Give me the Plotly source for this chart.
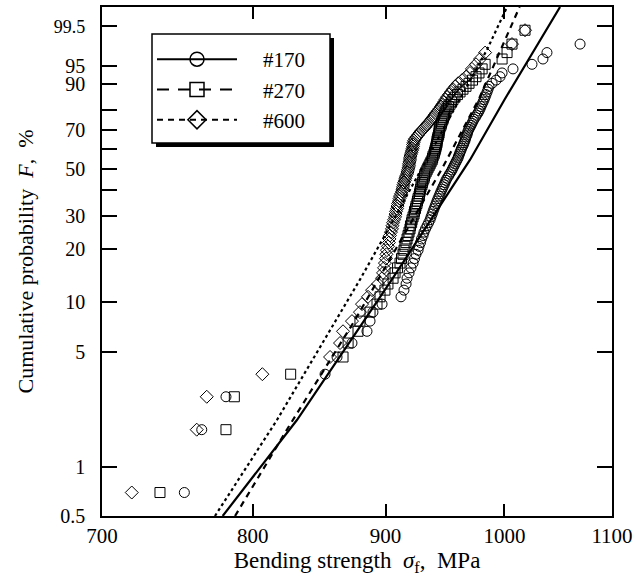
import numpy as np
import plotly.graph_objects as go

# ---------------- data ----------------
n_specimens = 100  # per grit; median-rank plotting positions (i-0.3)/(n+0.4)

# #170 : 99 specimens visible (the strongest one lies beyond the 1100 MPa frame)
s170 = [753.0, 764.7, 781.3, 853.0, 862.1, 873.6, 885.3, 887.7, 890.0, 897.2,
        912.4, 914.8, 916.5, 917.3, 918.9, 920.5, 922.2, 923.4, 924.6, 926.3,
        927.1, 928.3, 929.1, 930.4, 931.2, 932.4, 933.7, 935.0, 936.2, 937.0,
        937.9, 938.7, 939.5, 940.4, 941.2, 942.0, 942.8, 943.7, 944.5, 945.3,
        946.2, 947.0, 947.9, 948.7, 949.5, 950.4, 951.6, 952.5, 953.7, 954.6,
        955.4, 956.3, 957.1, 958.0, 958.8, 959.7, 960.1, 960.9, 961.4, 962.2,
        962.6, 963.5, 964.3, 964.8, 965.6, 966.0, 966.5, 967.3, 967.7, 968.2,
        969.0, 969.9, 970.8, 971.6, 972.5, 973.3, 974.6, 975.5, 976.8, 977.7,
        978.6, 979.4, 980.3, 981.2, 982.1, 983.0, 983.8, 984.7, 985.6, 986.4,
        989.1, 992.6, 996.1, 997.9, 1007.6, 1024.7, 1034.7, 1038.4, 1069.3]

s270 = [736.9, 781.3, 787.1, 827.4, 866.7, 870.6, 878.3, 879.8, 887.7, 893.2,
        895.6, 899.5, 901.9, 906.0, 907.6, 909.6, 911.6, 912.8, 914.0, 914.8,
        915.6, 916.5, 917.3, 918.1, 918.9, 919.7, 920.1, 921.0, 921.4, 922.2,
        923.0, 923.4, 924.2, 924.6, 925.4, 925.8, 926.3, 927.1, 927.5, 927.9,
        928.3, 928.7, 929.5, 929.9, 930.4, 931.2, 931.6, 932.0, 932.9, 933.7,
        934.5, 935.4, 936.2, 937.0, 937.9, 938.3, 938.7, 939.5, 939.9, 940.4,
        940.8, 941.2, 941.6, 942.0, 942.0, 942.4, 942.8, 943.3, 943.7, 943.7,
        944.1, 944.5, 945.3, 945.7, 946.2, 947.0, 947.4, 948.3, 948.7, 949.5,
        950.4, 951.6, 952.9, 954.2, 955.4, 957.1, 959.2, 961.4, 963.9, 966.5,
        969.1, 972.1, 975.1, 977.7, 980.4, 983.0, 997.9, 1002.3, 1006.7, 1018.4]

s600 = [718.7, 761.3, 768.1, 806.9, 856.8, 864.4, 866.7, 873.6, 879.8, 881.4,
        886.1, 889.3, 894.0, 897.2, 898.0, 898.8, 899.5, 900.3, 900.7, 901.1,
        901.9, 902.7, 903.1, 903.5, 904.3, 905.1, 905.5, 906.0, 906.8, 907.6,
        908.0, 908.4, 909.2, 909.6, 910.0, 910.8, 911.2, 911.6, 912.4, 913.2,
        913.6, 914.0, 914.4, 914.8, 915.6, 916.0, 916.5, 917.3, 917.7, 918.1,
        918.5, 918.9, 918.9, 919.3, 919.7, 919.7, 920.1, 920.5, 921.0, 921.4,
        921.8, 922.2, 922.2, 922.6, 923.0, 923.8, 925.0, 926.3, 927.5, 928.7,
        930.4, 932.0, 933.3, 934.5, 936.2, 937.4, 938.7, 939.9, 941.2, 942.8,
        944.1, 945.3, 946.6, 947.9, 949.1, 950.4, 952.1, 953.7, 955.4, 957.5,
        959.7, 963.1, 966.5, 969.9, 971.6, 975.1, 978.6, 983.0, 1006.7, 1018.4]

# fitted distribution lines (strength in MPa at cumulative probability in %)
fit170_F = [0.5, 1.94, 13.4, 30.0, 54.6, 84.3, 99.9]
fit170_s = [779.0, 832.0, 905.0, 939.0, 970.0, 1000.0, 1050.5]
fit270_F = [0.5, 1.74, 7.8, 51.0, 85.0, 99.9]
fit270_s = [787.6, 825.5, 876.0, 947.0, 978.0, 1013.5]
fit600_F = [0.5, 1.94, 13.4, 25.3, 97.7, 99.9]
fit600_s = [773.7, 817.4, 879.8, 901.9, 984.7, 1002.3]

labels = ["#170", "#270", "#600"]

tick_F = [0.5, 1, 5, 10, 20, 30, 40, 50, 60, 70, 80, 90, 95, 99.5]
tick_txt = ["0.5", "1", "5", "10", "20", "30", "", "50", "", "70", "", "90", "95",
            "<span style='font-size:18px'>99.5</span>"]
x_ticks = [700, 800, 900, 1000, 1100]
F_min, F_max = 0.5, 99.9
x_min, x_max = 700, 1100


# ---------------- helpers ----------------
def weib(Fpct):
    F = np.asarray(Fpct, dtype=float) / 100.0
    return np.log(-np.log(1.0 - F))


def ranks_F(count):
    i = np.arange(1, count + 1)
    return 100.0 * (i - 0.3) / (n_specimens + 0.4)


FONT = "Liberation Serif"
fig = go.Figure()

styles = [
    dict(sym="circle-open", dash="solid", data=s170, fF=fit170_F, fs=fit170_s),
    dict(sym="square-open", dash="6px,5px", data=s270, fF=fit270_F, fs=fit270_s),
    dict(sym="diamond-open", dash="dot", data=s600, fF=fit600_F, fs=fit600_s),
]
legend_dash = ["solid", "12px,9px", "6px,5px"]

for k, st in enumerate(styles):
    fig.add_trace(go.Scatter(
        x=st["fs"], y=weib(st["fF"]), mode="lines",
        line=dict(color="black", width=2.2, dash=st["dash"]),
        showlegend=False, hoverinfo="skip"))
for k, st in enumerate(styles):
    fig.add_trace(go.Scatter(
        x=st["data"], y=weib(ranks_F(len(st["data"]))), mode="markers",
        marker=dict(symbol=st["sym"], size=10, color="black", line=dict(width=1)),
        showlegend=False))
# legend entries
for k, st in enumerate(styles):
    fig.add_trace(go.Scatter(
        x=[None], y=[None], mode="lines+markers", name="    " + labels[k],
        legendgroup=labels[k],
        line=dict(color="black", width=2, dash=legend_dash[k]),
        marker=dict(symbol=st["sym"], size=14, color="black", line=dict(width=1.5))))

# plot area in px: left 102, right 612, top 7, bottom 516
L, R, T, B = 102, 612, 7, 516
W, H = R - L, B - T


def px(xp):
    return (xp - L) / W


def py(yp):
    return (B - yp) / H


box = (152, 34, 330, 143)
shapes = [
    dict(type="rect", xref="paper", yref="paper",
         x0=px(box[0] + 4), x1=px(box[2] + 4), y0=py(box[3] + 4), y1=py(box[1] + 4),
         fillcolor="black", line=dict(width=0), layer="above"),
    dict(type="rect", xref="paper", yref="paper",
         x0=px(box[0]), x1=px(box[2]), y0=py(box[3]), y1=py(box[1]),
         fillcolor="white", line=dict(color="black", width=1.5), layer="above"),
]

fig.update_layout(
    width=639, height=577,
    margin=dict(l=L, r=639 - R, t=T, b=577 - B, autoexpand=False),
    paper_bgcolor="white", plot_bgcolor="white",
    font=dict(family=FONT, size=20, color="black"),
    showlegend=True,
    legend=dict(x=px(152), y=py(39), xanchor="left", yanchor="top",
                bgcolor="rgba(0,0,0,0)", borderwidth=0,
                itemwidth=80, tracegroupgap=0,
                font=dict(family=FONT, size=21)),
    shapes=shapes,
    xaxis=dict(type="log", range=[np.log10(x_min), np.log10(x_max)],
               tickvals=x_ticks, ticktext=[str(v) for v in x_ticks],
               ticks="inside", ticklen=12, tickwidth=1.5, tickcolor="black",
               showline=True, linewidth=1.5, linecolor="black", mirror="ticks",
               showgrid=False, zeroline=False, automargin=False,
               tickfont=dict(family=FONT, size=21),
               title=dict(text="Bending strength  <i>σ</i><sub>f</sub>,  MPa",
                          font=dict(family=FONT, size=23), standoff=2)),
    yaxis=dict(range=[float(weib(F_min)), float(weib(F_max))],
               tickvals=list(weib(tick_F)), ticktext=tick_txt,
               ticks="inside", ticklen=15, tickwidth=1.5, tickcolor="black",
               showline=True, linewidth=1.5, linecolor="black", mirror="ticks",
               showgrid=False, zeroline=False, ticklabelstandoff=11, automargin=False,
               tickfont=dict(family=FONT, size=20),
               title=dict(text="Cumulative probability  <i>F</i>,  %",
                          font=dict(family=FONT, size=22), standoff=14)),
)

fig.write_html("out.html", config={"displayModeBar": False},
               post_script="document.body.style.margin='0px';")
